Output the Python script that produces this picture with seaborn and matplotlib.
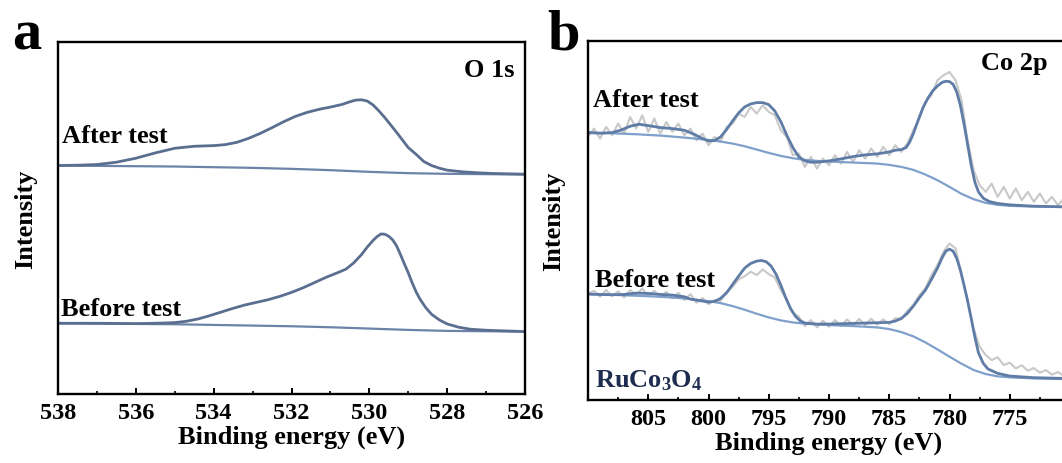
import numpy as np
import pandas as pd
import matplotlib
matplotlib.use("Agg")
import matplotlib.pyplot as plt
from matplotlib.ticker import MultipleLocator
import seaborn as sns

# ---------------- data: panel a (O 1s) ----------------
o_after_env_x = [538.0, 537.5, 537.0, 536.5, 536.0, 535.5, 535.0, 534.5, 534.0, 533.7,
                 533.4, 533.1, 532.8, 532.5, 532.2, 531.9, 531.6, 531.3, 531.0, 530.7,
                 530.5, 530.35, 530.2, 530.05, 529.9, 529.75, 529.6, 529.45, 529.3, 529.15,
                 529.0, 528.8, 528.6, 528.4, 528.2, 528.0, 527.6, 527.2, 526.8, 526.4, 526.0]
o_after_env_y = [688, 689, 691, 698, 710, 726, 740, 746, 748, 751,
                 758, 770, 785, 802, 820, 836, 848, 857, 864, 872,
                 880, 885, 886, 882, 870, 852, 832, 810, 788, 765,
                 742, 722, 700, 688, 680, 674, 669, 666, 664, 663, 662]
o_after_bg_x = [538, 537, 536, 535, 534, 533, 532, 531, 530, 529, 528, 527, 526]
o_after_bg_y = [688, 687, 686, 685, 683, 681, 678, 674, 669, 665, 663, 662, 661]

o_before_env_x = [538.0, 537.0, 536.0, 535.5, 535.0, 534.7, 534.4, 534.1, 533.8, 533.5,
                  533.2, 532.9, 532.6, 532.3, 532.0, 531.7, 531.4, 531.1, 530.8, 530.6,
                  530.4, 530.2, 530.05, 529.9, 529.8, 529.7, 529.6, 529.5, 529.4, 529.3,
                  529.2, 529.1, 529.0, 528.9, 528.8, 528.7, 528.55, 528.4, 528.2, 528.0,
                  527.7, 527.4, 527.0, 526.5, 526.0]
o_before_env_y = [213, 213, 212, 213, 215, 219, 226, 236, 247, 258,
                  268, 276, 284, 294, 306, 320, 336, 352, 366, 376,
                  395, 420, 443, 463, 474, 482, 481, 475, 464, 446,
                  420, 392, 365, 335, 308, 286, 260, 240, 223, 211,
                  201, 195, 192, 190, 188]
o_before_bg_x = [538, 537, 536, 535, 534, 533, 532, 531, 530, 529, 528, 527, 526]
o_before_bg_y = [213, 212, 211, 210, 208, 206, 204, 201, 197, 193, 190, 189, 188]

o_ticks = [538, 536, 534, 532, 530, 528, 526]

# ---------------- data: panel b (Co 2p) ----------------
co_raw_x = [810.0 - 0.5 * i for i in range(80)]
co_after_raw = [790, 815, 785, 820, 795, 830, 800, 850, 815, 855,
                805, 845, 800, 835, 805, 830, 795, 815, 780, 800,
                765, 790, 775, 820, 830, 860, 850, 880, 860, 885,
                865, 855, 810, 790, 735, 740, 700, 730, 695, 725,
                705, 735, 710, 745, 715, 750, 725, 755, 730, 760,
                735, 765, 745, 770, 810, 845, 895, 915, 960, 975,
                985, 960, 900, 780, 690, 645, 625, 650, 610, 640,
                605, 635, 600, 625, 595, 620, 590, 610, 585, 605]
co_before_raw = [318, 328, 310, 330, 312, 326, 308, 330, 315, 335,
                 312, 328, 308, 325, 305, 322, 300, 318, 292, 306,
                 288, 300, 298, 322, 340, 362, 372, 385, 375, 392,
                 378, 368, 330, 300, 262, 250, 222, 240, 218, 238,
                 220, 240, 222, 242, 224, 243, 225, 244, 226, 242,
                 228, 246, 242, 268, 285, 315, 335, 375, 405, 445,
                 470, 455, 380, 300, 215, 160, 135, 120, 128, 105,
                 112, 95, 104, 88, 96, 82, 90, 76, 84, 72]

co_after_env_x = [810, 809, 808, 807.3, 806.5, 805.8, 805, 804, 803, 802,
                  801.2, 800.5, 800, 799.5, 799, 798.5, 798, 797.5, 797, 796.5,
                  796, 795.5, 795, 794.5, 794, 793.5, 793, 792.5, 792, 791.5,
                  791, 790, 789, 788, 787, 786, 785, 784.5, 784, 783.6,
                  783.3, 783, 782.6, 782.2, 781.8, 781.4, 781, 780.6, 780.3, 780,
                  779.7, 779.4, 779.1, 778.8, 778.5, 778.2, 777.9, 777.6, 777.2, 776.7,
                  776, 775, 773, 770.6]
co_after_env_y = [803, 801, 803, 810, 822, 828, 824, 818, 815, 810,
                  798, 785, 778, 779, 790, 812, 838, 862, 880, 889,
                  893, 893, 887, 868, 836, 795, 758, 730, 718, 714,
                  714, 718, 724, 731, 736, 739, 745, 750, 752, 758,
                  775, 800, 840, 878, 906, 928, 943, 954, 957, 956,
                  948, 925, 885, 830, 768, 705, 655, 625, 606, 596,
                  590, 586, 582, 580]
co_after_bg_x = [810, 808, 806, 804, 802, 800, 799, 798, 797, 796, 795, 794, 793, 792,
                 791, 790, 788, 786, 785, 784, 783, 782, 781, 780, 779, 778, 777, 776,
                 775, 773, 770.6]
co_after_bg_y = [803, 801, 798, 794, 788, 781, 776, 770, 762, 752, 742, 733, 726, 721,
                 718, 716, 713, 710, 706, 700, 691, 677, 660, 640, 619, 603, 592, 586,
                 583, 581, 580]

co_before_env_x = [810, 809, 808, 807, 806, 805, 804, 803, 802, 801.5,
                   800.5, 800, 799.5, 799, 798.5, 798, 797.5, 797, 796.5, 796,
                   795.6, 795.2, 794.8, 794.4, 794, 793.6, 793.2, 792.8, 792.4, 792,
                   791, 790, 789, 788, 787, 786, 785, 784.5, 784, 783.5,
                   783, 782.5, 782, 781.5, 781, 780.6, 780.3, 780, 779.7, 779.4,
                   779.1, 778.8, 778.5, 778.2, 777.9, 777.6, 777.2, 776.8, 776, 775,
                   773, 770.6]
co_before_env_y = [318, 317, 316, 317, 321, 320, 317, 315, 310, 303,
                   297, 294, 296, 305, 322, 347, 372, 396, 410, 417,
                   419, 415, 402, 378, 345, 308, 275, 252, 238, 231,
                   228, 228, 229, 230, 231, 232, 233, 237, 245, 260,
                   282, 307, 330, 362, 396, 428, 447, 453, 447, 425,
                   390, 345, 298, 245, 190, 142, 110, 93, 80, 72,
                   67, 65]
co_before_bg_x = [810, 808, 806, 804, 802, 800, 799, 798, 797, 796, 795, 794, 793, 792,
                  791, 790, 788, 786, 785, 784, 783, 782, 781, 780, 779, 778, 777, 776,
                  775, 773, 770.6]
co_before_bg_y = [318, 316, 313, 310, 305, 297, 291, 282, 271, 259, 248, 239, 233, 229,
                  227, 225, 222, 218, 213, 204, 191, 173, 152, 130, 109, 90, 78, 71,
                  68, 65, 63]

co_ticks = [805, 800, 795, 790, 785, 780, 775]

# ---------------- style ----------------
sns.set_theme(style="ticks")
plt.rcParams["font.family"] = ["Liberation Serif", "DejaVu Serif"]
plt.rcParams["font.weight"] = "bold"
plt.rcParams["axes.labelweight"] = "bold"
plt.rcParams["text.color"] = "black"
plt.rcParams["axes.labelcolor"] = "black"
plt.rcParams["xtick.color"] = "black"
plt.rcParams["ytick.color"] = "black"
plt.rcParams["mathtext.fontset"] = "custom"
plt.rcParams["mathtext.rm"] = "Liberation Serif:bold"
plt.rcParams["mathtext.bf"] = "Liberation Serif:bold"
plt.rcParams["mathtext.it"] = "Liberation Serif:bold"
plt.rcParams["mathtext.default"] = "rm"

W, H = 1062, 464
fig = plt.figure(figsize=(W / 100, H / 100), dpi=100)

def px_axes(l, t, r, b):
    return fig.add_axes([l / W, 1 - b / H, (r - l) / W, (b - t) / H])

ax_a = px_axes(58, 43, 525, 395)
ax_b = px_axes(588, 42, 1070, 401)

env_a, bg_a = "#5a6f90", "#6b84a8"
env_b, bg_b, raw_b = "#5f7ca6", "#7fa0cb", "#c8c8c8"

# panel a
sns.lineplot(x=o_after_bg_x, y=o_after_bg_y, ax=ax_a, color=bg_a, lw=1.6)
sns.lineplot(x=o_after_env_x, y=o_after_env_y, ax=ax_a, color=env_a, lw=2.0)
sns.lineplot(x=o_before_bg_x, y=o_before_bg_y, ax=ax_a, color=bg_a, lw=1.6)
sns.lineplot(x=o_before_env_x, y=o_before_env_y, ax=ax_a, color=env_a, lw=2.0)

# panel b
sns.lineplot(x=co_raw_x, y=co_after_raw, ax=ax_b, color=raw_b, lw=1.5)
sns.lineplot(x=co_raw_x, y=co_before_raw, ax=ax_b, color=raw_b, lw=1.5)
sns.lineplot(x=co_after_bg_x, y=co_after_bg_y, ax=ax_b, color=bg_b, lw=1.6)
sns.lineplot(x=co_after_env_x, y=co_after_env_y, ax=ax_b, color=env_b, lw=2.0)
sns.lineplot(x=co_before_bg_x, y=co_before_bg_y, ax=ax_b, color=bg_b, lw=1.6)
sns.lineplot(x=co_before_env_x, y=co_before_env_y, ax=ax_b, color=env_b, lw=2.0)

ax_a.set_xlim(538, 526)
ax_a.set_ylim(0, 1060)
ax_a.set_xticks(o_ticks)
ax_a.set_xticklabels([str(t) for t in o_ticks])
ax_a.xaxis.set_minor_locator(MultipleLocator(1))

ax_b.set_xlim(810, 770)
ax_b.set_ylim(0, 1078)
ax_b.set_xticks(co_ticks)
ax_b.set_xticklabels([str(t) for t in co_ticks])
ax_b.xaxis.set_minor_locator(MultipleLocator(2.5))

for ax, pad in ((ax_a, 15), (ax_b, 16.5)):
    ax.set_yticks([])
    ax.set_xlabel("Binding energy (eV)", fontsize=19, fontweight="bold", labelpad=1,
                  color="black")
    ax.set_ylabel("Intensity", fontsize=19, fontweight="bold", labelpad=pad, color="black")
    ax.tick_params(axis="x", which="major", direction="in", length=4, width=1.4,
                   labelsize=17.5, pad=6, color="black", labelcolor="black")
    ax.tick_params(axis="x", which="minor", direction="in", length=2, width=1.2, color="black")
    for lab in ax.get_xticklabels():
        lab.set_fontweight("bold")
    for s in ax.spines.values():
        s.set_linewidth(1.7)
        s.set_color("black")
    ax.set_facecolor("white")

def ftxt(x, y, s, color="black", **kw):
    fig.text(x / W, 1 - y / H, s, va="baseline", fontweight="bold", color=color, **kw)

ftxt(12, 50, "a", fontsize=42, ha="left")
ftxt(547, 50, "b", fontsize=42, ha="left")
ftxt(62, 143, "After test", fontsize=19, ha="left")
ftxt(61, 316, "Before test", fontsize=19, ha="left")
ftxt(514, 77, "O 1s", fontsize=19, ha="right")
ftxt(593, 107, "After test", fontsize=19, ha="left")
ftxt(595, 287, "Before test", fontsize=19, ha="left")
ftxt(595, 387, r"RuCo$_3$O$_4$", fontsize=19, ha="left", color="#1e2d4f")
ftxt(1048, 70, "Co 2p", fontsize=19, ha="right")

fig.savefig("out.png", dpi=100, facecolor="white")
